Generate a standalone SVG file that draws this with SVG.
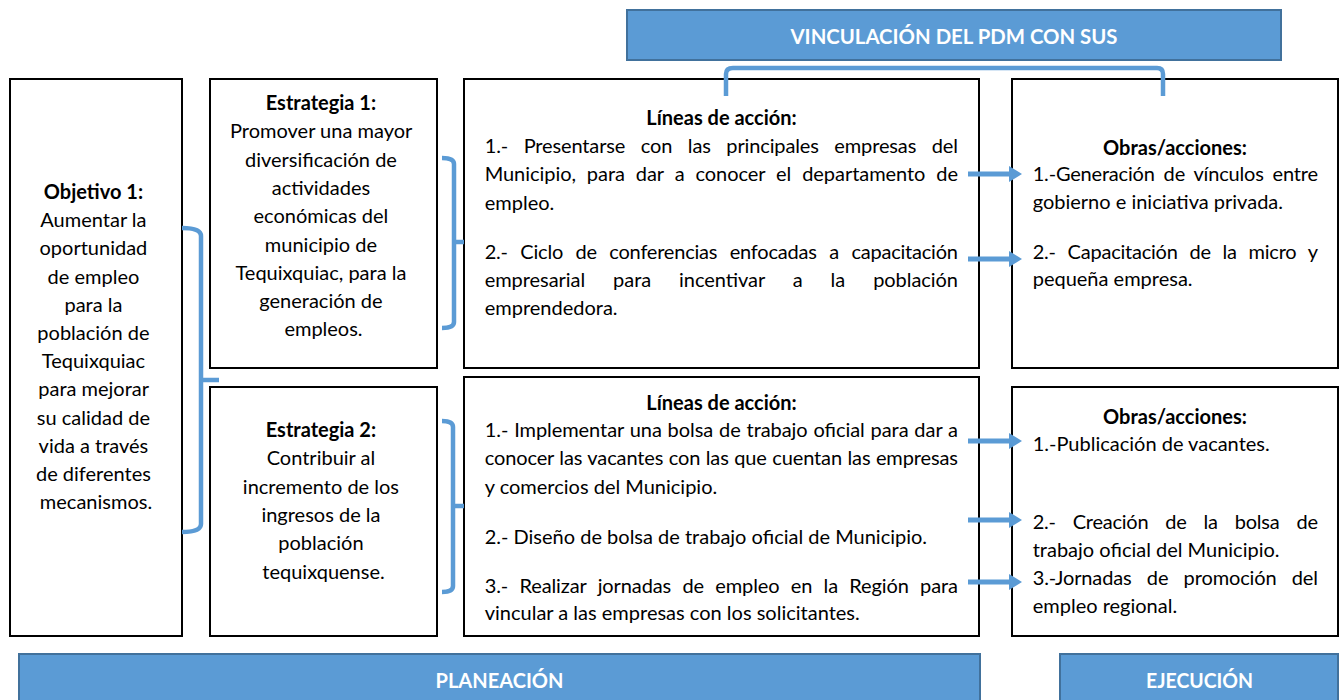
<svg xmlns="http://www.w3.org/2000/svg" width="1340" height="700" viewBox="0 0 1340 700">
<style>
.box{fill:#fff;stroke:#000;stroke-width:2}
.ban{fill:#5B9BD5;stroke:#41719C;stroke-width:2}
.bt{font-family:Lato,"Liberation Sans",sans-serif;font-weight:bold;font-size:20px;fill:#fff;text-anchor:middle}
.t{font-family:Lato,"Liberation Sans",sans-serif;font-size:20px;fill:#000}
.c{text-anchor:middle}
.b{font-weight:bold}
.br{fill:none;stroke:#5B9BD5;stroke-width:4.5;stroke-linejoin:round}
.ar{stroke:#5B9BD5;stroke-width:5;marker-end:url(#ah)}
</style>
<defs>
<marker id="ah" markerUnits="userSpaceOnUse" markerWidth="14" markerHeight="18" refX="1" refY="8" orient="auto">
<path d="M0,0 L13,8 L0,16 Z" fill="#5B9BD5"/>
</marker>
</defs>
<rect width="1340" height="700" fill="#fff"/>

<g id="banner-vinculacion">
<rect class="ban" x="627" y="10" width="654" height="50"/>
<text class="bt" x="954" y="44" textLength="327" lengthAdjust="spacingAndGlyphs">VINCULACIÓN DEL PDM CON SUS</text>
</g>

<g id="objetivo1">
<rect class="box" x="10" y="79" width="172" height="557"/>
<text class="t c" x="96">
<tspan class="b" x="96" y="199">Objetivo 1:</tspan>
<tspan x="96" y="227.2">Aumentar la</tspan>
<tspan x="96" y="255.4">oportunidad</tspan>
<tspan x="96" y="283.6">de empleo</tspan>
<tspan x="96" y="311.8">para la</tspan>
<tspan x="96" y="340">población de</tspan>
<tspan x="96" y="368.2">Tequixquiac</tspan>
<tspan x="96" y="396.4">para mejorar</tspan>
<tspan x="96" y="424.6">su calidad de</tspan>
<tspan x="96" y="452.8">vida a través</tspan>
<tspan x="96" y="481">de diferentes</tspan>
<tspan x="96" y="509.2">mecanismos.</tspan>
</text>
</g>

<g id="estrategia1">
<rect class="box" x="210" y="79" width="227" height="289"/>
<text class="t c" x="323.5">
<tspan class="b" x="323.5" y="110">Estrategia 1:</tspan>
<tspan x="323.5" y="138.3">Promover una mayor</tspan>
<tspan x="323.5" y="166.6">diversificación de</tspan>
<tspan x="323.5" y="194.9">actividades</tspan>
<tspan x="323.5" y="223.2">económicas del</tspan>
<tspan x="323.5" y="251.5">municipio de</tspan>
<tspan x="323.5" y="279.8">Tequixquiac, para la</tspan>
<tspan x="323.5" y="308.1">generación de</tspan>
<tspan x="323.5" y="336.4">empleos.</tspan>
</text>
</g>

<g id="estrategia2">
<rect class="box" x="210" y="387" width="227" height="249"/>
<text class="t c" x="323.5">
<tspan class="b" x="323.5" y="437">Estrategia 2:</tspan>
<tspan x="323.5" y="465.3">Contribuir al</tspan>
<tspan x="323.5" y="493.6">incremento de los</tspan>
<tspan x="323.5" y="521.9">ingresos de la</tspan>
<tspan x="323.5" y="550.2">población</tspan>
<tspan x="323.5" y="578.5">tequixquense.</tspan>
</text>
</g>

<g id="lineas1">
<rect class="box" x="464" y="79" width="515" height="289"/>
<text class="t b c" x="721.5" y="125">Líneas de acción:</text>
<text class="t" x="484.7" y="153" style="word-spacing:10.6px" textLength="473.3" lengthAdjust="spacing">1.- Presentarse con las principales empresas del</text>
<text class="t" x="484.7" y="181.3" style="word-spacing:5.9px" textLength="473.3" lengthAdjust="spacing">Municipio, para dar a conocer el departamento de</text>
<text class="t" x="484.7" y="209.6">empleo.</text>
<text class="t" x="484.7" y="258.7" style="word-spacing:7.6px" textLength="473.3" lengthAdjust="spacing">2.- Ciclo de conferencias enfocadas a capacitación</text>
<text class="t" x="484.7" y="287" style="word-spacing:22.9px" textLength="473.3" lengthAdjust="spacing">empresarial para incentivar a la población</text>
<text class="t" x="484.7" y="315.3">emprendedora.</text>
</g>

<g id="lineas2">
<rect class="box" x="464" y="377" width="515" height="259"/>
<text class="t b c" x="721.5" y="410">Líneas de acción:</text>
<text class="t" x="484.7" y="437" style="word-spacing:0.8px" textLength="473.3" lengthAdjust="spacing">1.- Implementar una bolsa de trabajo oficial para dar a</text>
<text class="t" x="484.7" y="465.3" style="word-spacing:0.5px" textLength="473.3" lengthAdjust="spacing">conocer las vacantes con las que cuentan las empresas</text>
<text class="t" x="484.7" y="493.6">y comercios del Municipio.</text>
<text class="t" x="484.7" y="544">2.- Diseño de bolsa de trabajo oficial de Municipio.</text>
<text class="t" x="484.7" y="593" style="word-spacing:6.3px" textLength="473.3" lengthAdjust="spacing">3.- Realizar jornadas de empleo en la Región para</text>
<text class="t" x="484.7" y="620">vincular a las empresas con los solicitantes.</text>
</g>

<g id="obras1">
<rect class="box" x="1012" y="79" width="326" height="289"/>
<text class="t b c" x="1175" y="155">Obras/acciones:</text>
<text class="t" x="1032.7" y="181" style="word-spacing:4px" textLength="285.3" lengthAdjust="spacing">1.-Generación de vínculos entre</text>
<text class="t" x="1032.7" y="209">gobierno e iniciativa privada.</text>
<text class="t" x="1032.7" y="259" style="word-spacing:6.9px" textLength="285.3" lengthAdjust="spacing">2.- Capacitación de la micro y</text>
<text class="t" x="1032.7" y="286">pequeña empresa.</text>
</g>

<g id="obras2">
<rect class="box" x="1012" y="387" width="326" height="249"/>
<text class="t b c" x="1175" y="424">Obras/acciones:</text>
<text class="t" x="1032.7" y="451">1.-Publicación de vacantes.</text>
<text class="t" x="1032.7" y="529" style="word-spacing:12.1px" textLength="285.3" lengthAdjust="spacing">2.- Creación de la bolsa de</text>
<text class="t" x="1032.7" y="557">trabajo oficial del Municipio.</text>
<text class="t" x="1032.7" y="585" style="word-spacing:10.3px" textLength="285.3" lengthAdjust="spacing">3.-Jornadas de promoción del</text>
<text class="t" x="1032.7" y="613">empleo regional.</text>
</g>

<g id="banner-planeacion">
<rect class="ban" x="19" y="654" width="961" height="50"/>
<text class="bt" x="499.5" y="688" textLength="128" lengthAdjust="spacingAndGlyphs">PLANEACIÓN</text>
</g>

<g id="banner-ejecucion">
<rect class="ban" x="1060" y="654" width="278" height="50"/>
<text class="bt" x="1199.5" y="688" textLength="107" lengthAdjust="spacingAndGlyphs">EJECUCIÓN</text>
</g>

<g id="connectors">
<path class="br" d="M182,228 Q201,228 201,236 L201,524 Q201,532 182,532 M201,380 H219"/>
<path class="br" d="M442,158 Q454,158 454,164 L454,322 Q454,328 442,328 M454,242 H464"/>
<path class="br" d="M442,421 Q453,421 453,427 L453,586 Q453,592 442,592 M453,506 H464"/>
<path class="br" d="M726,96 V74 Q726,68 733,68 H1157 Q1163,68 1163,74 V96"/>
<line class="ar" x1="968" y1="174" x2="1010" y2="174"/>
<line class="ar" x1="968" y1="259" x2="1010" y2="259"/>
<line class="ar" x1="968" y1="441" x2="1010" y2="441"/>
<line class="ar" x1="968" y1="520" x2="1010" y2="520"/>
<line class="ar" x1="968" y1="582" x2="1010" y2="582"/>
</g>
</svg>
